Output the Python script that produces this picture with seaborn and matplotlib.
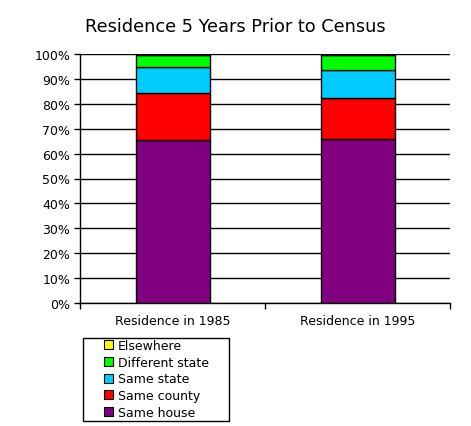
import numpy as np
import pandas as pd
import matplotlib
matplotlib.use('Agg')
import matplotlib.pyplot as plt
import seaborn as sns
from matplotlib.patches import Patch, Rectangle
from matplotlib.ticker import PercentFormatter

# values (percent of population)
years = ['Residence in 1985', 'Residence in 1995']
same_house = [65.5, 65.9]
same_county = [19.0, 16.6]
same_state = [10.1, 10.9]
different_state = [5.0, 6.0]
elsewhere = [0.4, 0.6]

series = ['Same house', 'Same county', 'Same state', 'Different state', 'Elsewhere']
colors = ['#800080', '#FF0000', '#00CCFF', '#00FF00', '#FFFF00']

df = pd.DataFrame({'Year': years,
                   'Same house': same_house,
                   'Same county': same_county,
                   'Same state': same_state,
                   'Different state': different_state,
                   'Elsewhere': elsewhere})

sns.set_style('white')
plt.rcParams['font.family'] = ['DejaVu Sans']
plt.rcParams['text.color'] = 'black'
plt.rcParams['xtick.color'] = 'black'
plt.rcParams['ytick.color'] = 'black'

W, H = 471, 427
fig = plt.figure(figsize=(W/100, H/100), dpi=100)
ax = fig.add_axes([80/W, 1-304/H, 370/W, 249/H])

bottom = np.zeros(len(years))
for name, col in zip(series, colors):
    sns.barplot(data=df, x='Year', y=name, color=col, bottom=bottom, width=0.4,
                edgecolor='black', linewidth=1, saturation=1, ax=ax, zorder=3)
    bottom = bottom + df[name].values

ax.set_ylim(0, 100)
ax.set_xlim(-0.5, 1.5)
ax.set_yticks(np.arange(0, 101, 10))
ax.yaxis.set_major_formatter(PercentFormatter(decimals=0))
ax.grid(axis='y', color='black', linewidth=1, zorder=0)
ax.set_xticks([-0.5, 0.5, 1.5], minor=False)
ax.set_xticklabels([])
ax.set_xticks([0, 1], minor=True)
ax.set_xticklabels(years, minor=True)
ax.tick_params(axis='x', which='minor', length=0, pad=8, labelsize=9)
ax.tick_params(axis='x', which='major', length=4, width=1, direction='out', bottom=True)
ax.tick_params(axis='y', length=4, width=1, direction='out', left=True, labelsize=9, pad=3)
ax.set_xlabel('')
ax.set_ylabel('')
for s in ['top', 'right']:
    ax.spines[s].set_visible(False)
for s in ['left', 'bottom']:
    ax.spines[s].set_color('black')
    ax.spines[s].set_linewidth(1)

fig.suptitle('Residence 5 Years Prior to Census', x=0.5, y=1-27/H, va='center', fontsize=12.8)

# legend box drawn separately, entries placed inside with left padding
fig.patches.append(Rectangle((83/W, 1-422/H), 146/W, 83/H, transform=fig.transFigure,
                             facecolor='white', edgecolor='black', linewidth=1, zorder=1))
handles = [Patch(facecolor=c, edgecolor='black', linewidth=0.8) for c in colors]
leg = fig.legend(handles[::-1], series[::-1], loc='center left',
                 bbox_to_anchor=(104/W, 1-380/H), frameon=False,
                 fontsize=9, handlelength=0.75, handleheight=0.75,
                 handletextpad=0.35, labelspacing=0.3, borderpad=0, borderaxespad=0)
leg.set_zorder(2)

fig.savefig('out.png', dpi=100)
